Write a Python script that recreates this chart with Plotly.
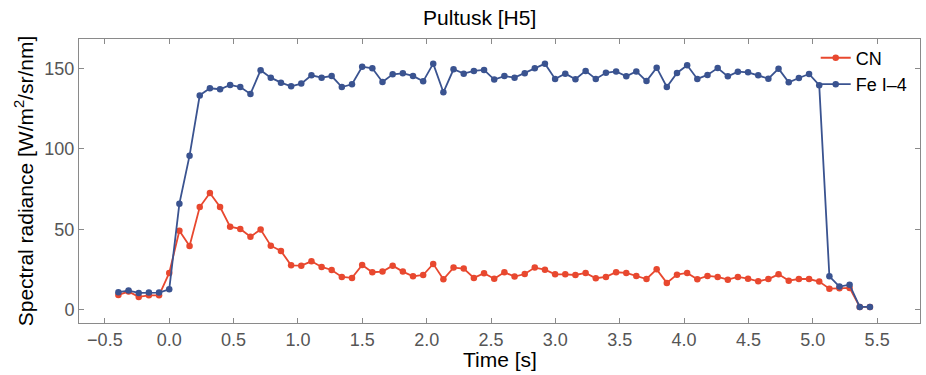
import plotly.graph_objects as go

# Frame times [s]
time_s = [
    -0.395, -0.316, -0.237, -0.158, -0.079, 0.000, 0.079, 0.158, 0.237, 0.316,
    0.395, 0.473, 0.552, 0.631, 0.710, 0.789, 0.868, 0.947, 1.026, 1.105,
    1.184, 1.262, 1.341, 1.420, 1.499, 1.578, 1.657, 1.736, 1.815, 1.894,
    1.973, 2.051, 2.130, 2.209, 2.288, 2.367, 2.446, 2.525, 2.604, 2.683,
    2.762, 2.840, 2.919, 2.998, 3.077, 3.156, 3.235, 3.314, 3.393, 3.472,
    3.551, 3.629, 3.708, 3.787, 3.866, 3.945, 4.024, 4.103, 4.182, 4.261,
    4.340, 4.418, 4.497, 4.576, 4.655, 4.734, 4.813, 4.892, 4.971, 5.050,
    5.129, 5.207, 5.286, 5.365, 5.444,
]

# Spectral radiance of the CN band [W/m^2/sr/nm]
cn = [
    9.3, 11.4, 8.1, 9.1, 9.1, 23.0, 49.2, 39.7, 63.9, 72.6,
    63.9, 51.7, 50.3, 45.5, 49.9, 39.9, 36.6, 27.7, 27.5, 30.2,
    26.7, 24.8, 20.5, 19.9, 27.9, 23.4, 23.8, 27.5, 23.8, 20.9,
    21.7, 28.6, 19.0, 26.3, 25.7, 19.9, 22.8, 19.4, 23.4, 20.7,
    22.3, 26.3, 25.0, 22.1, 22.1, 21.7, 23.0, 19.7, 20.5, 23.4,
    23.0, 21.1, 19.2, 25.2, 16.8, 21.9, 23.0, 19.0, 21.1, 20.5,
    18.8, 20.5, 19.4, 17.8, 19.2, 22.1, 18.2, 19.2, 19.2, 17.6,
    13.2, 13.4, 13.7, 1.9, 1.9,
]

# Spectral radiance of the Fe I-4 multiplet [W/m^2/sr/nm]
fe = [
    11.0, 12.0, 10.6, 10.8, 10.8, 12.8, 66.0, 95.8, 133.2, 137.6,
    137.0, 139.7, 138.4, 134.1, 148.8, 144.2, 141.1, 138.8, 140.5, 145.7,
    144.2, 145.2, 138.4, 140.1, 151.0, 150.0, 141.5, 146.3, 146.9, 145.3,
    141.9, 152.9, 135.1, 149.4, 146.7, 148.4, 149.0, 143.0, 145.2, 144.2,
    146.9, 150.0, 152.9, 143.4, 146.7, 143.2, 148.4, 143.4, 147.2, 148.1,
    145.0, 148.1, 142.1, 150.4, 138.4, 147.1, 151.9, 143.4, 145.9, 150.2,
    145.0, 147.9, 147.5, 145.7, 143.6, 149.8, 141.3, 144.0, 146.5, 139.5,
    20.9, 14.5, 15.7, 1.9, 1.9,
]

x_ticks = [-0.5, 0.0, 0.5, 1.0, 1.5, 2.0, 2.5, 3.0, 3.5, 4.0, 4.5, 5.0, 5.5]
y_ticks = [0, 50, 100, 150]

RED = "#E8482F"
BLUE = "#3A5390"
FONT = "Liberation Sans, Arial, sans-serif"

fig = go.Figure()
fig.add_trace(go.Scatter(
    x=time_s, y=cn, name="CN", mode="lines+markers",
    line=dict(color=RED, width=1.8), marker=dict(color=RED, size=6.5),
))
fig.add_trace(go.Scatter(
    x=time_s, y=fe, name="Fe I\u20134", mode="lines+markers",
    line=dict(color=BLUE, width=1.8), marker=dict(color=BLUE, size=6.5),
))

axis_common = dict(
    showline=True, linecolor="#8a8a8a", linewidth=1, mirror="allticks",
    ticks="inside", ticklen=5, tickcolor="#8a8a8a", tickwidth=1,
    showgrid=False, zeroline=False,
    tickfont=dict(family=FONT, size=18, color="#555555"),
)

fig.update_layout(
    width=926, height=375,
    margin=dict(l=79, r=6, t=39, b=52),
    paper_bgcolor="white", plot_bgcolor="white",
    font=dict(family=FONT, color="black"),
    title=dict(text="Pultusk [H5]", x=0.518, xanchor="center", y=0.952, yanchor="middle",
               font=dict(family=FONT, size=21, color="black")),
    xaxis=dict(range=[-0.701, 5.833], tickvals=x_ticks, tickformat=".1f", **axis_common),
    yaxis=dict(
        range=[-8.1, 168.2], tickvals=y_ticks,
        title=dict(text="Spectral radiance [W/m<sup>2</sup>/sr/nm]", standoff=5,
                   font=dict(family=FONT, size=21, color="black")),
        **axis_common,
    ),
    legend=dict(
        x=0.876, y=0.998, xanchor="left", yanchor="top",
        bgcolor="rgba(0,0,0,0)", itemwidth=30, tracegroupgap=0,
        font=dict(family=FONT, size=18, color="black"),
    ),
    annotations=[dict(
        text="Time [s]", xref="paper", yref="paper", x=0.5, y=-0.13,
        xanchor="center", yanchor="middle", showarrow=False,
        font=dict(family=FONT, size=21, color="black"),
    )],
    showlegend=True,
)

fig.write_html("out.html")
